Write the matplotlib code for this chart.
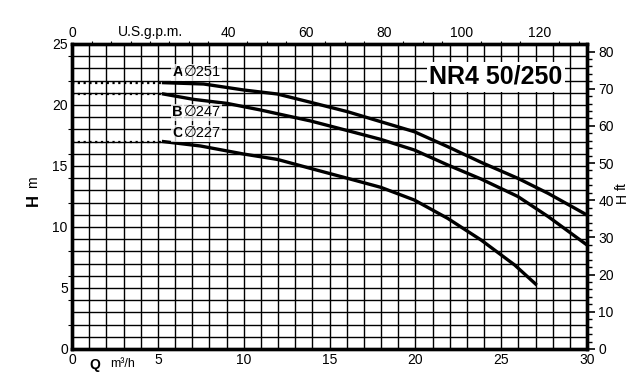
import matplotlib.pyplot as plt
import numpy as np

plt.rcParams['font.family'] = ['Liberation Sans', 'DejaVu Sans']

# curve data, Q in m3/h, H in m
q_a = [5.33, 7.67, 10.0, 11.96, 13.9, 16.05, 17.99, 19.94, 21.89, 23.83, 25.97, 27.73, 30.0]
h_a = [21.83, 21.72, 21.23, 20.9, 20.22, 19.45, 18.63, 17.81, 16.58, 15.3, 13.99, 12.76, 10.98]
q_b = [5.33, 7.09, 9.04, 10.98, 13.9, 16.05, 17.99, 19.94, 21.89, 23.83, 25.97, 27.73, 30.0]
h_b = [20.9, 20.46, 20.13, 19.59, 18.69, 17.9, 17.18, 16.31, 15.08, 13.93, 12.5, 10.86, 8.52]
q_c = [5.33, 7.48, 10.0, 11.96, 13.9, 16.05, 17.99, 19.94, 21.89, 23.83, 25.78, 27.0]
h_c = [17.0, 16.64, 15.98, 15.54, 14.8, 13.99, 13.25, 12.21, 10.7, 8.93, 6.89, 5.33]
labels = ['A', 'B', 'C']
diam = ['251', '247', '227']
label_h = [22.7, 19.4, 17.7]

fig = plt.figure(figsize=(6.39, 3.77), dpi=100)
ax = fig.add_axes([0.1127, 0.0743, 0.806, 0.809])
ax.set_xlim(0, 30)
ax.set_ylim(0, 25)

# griglia
ax.vlines(np.arange(1, 30), 0, 25, color='black', lw=1.0, zorder=1)
ax.hlines(np.arange(1, 25), 0, 30, color='black', lw=1.0, zorder=1)

for q, h in [(q_a, h_a), (q_b, h_b), (q_c, h_c)]:
    ax.plot(q, h, color='black', lw=2.4, solid_joinstyle='round', zorder=3)
    ax.plot([0, q[0]], [h[0], h[0]], color='black', lw=1.6,
            linestyle=(0, (1, 1.6)), zorder=3)

for lab, d, y in zip(labels, diam, label_h):
    ax.text(5.85, y, lab, fontsize=10.5, fontweight='bold', va='center',
            ha='left', zorder=4,
            bbox=dict(facecolor='white', edgecolor='none', pad=1, alpha=0.75))
    ax.text(6.5, y, '\u2205' + d, fontsize=10.5, va='center', ha='left',
            zorder=4,
            bbox=dict(facecolor='white', edgecolor='none', pad=1, alpha=0.75))

ax.text(24.7, 22.3, 'NR4 50/250', fontsize=18, fontweight='bold',
        ha='center', va='center', zorder=4,
        bbox=dict(facecolor='white', edgecolor='none', pad=2))

for s in ax.spines.values():
    s.set_linewidth(2.4)

ax.set_xticks(range(0, 31, 5))
ax.set_yticks(range(0, 26, 5))
ax.set_yticks(range(0, 26, 2), minor=True)
ax.tick_params(axis='both', which='major', length=0, labelsize=10, pad=3)
ax.tick_params(axis='y', which='minor', length=3, width=0.8, direction='out')
ax.tick_params(axis='x', which='minor', length=0)
ax.text(1.0, -1.3, 'Q', fontsize=10, fontweight='bold', ha='left', va='center')
ax.text(2.2, -1.2, 'm\u00b3/h', fontsize=9, ha='left', va='center')

fig.text(0.052, 0.47, 'H', fontsize=12, fontweight='bold', rotation=90,
         ha='center', va='center')
fig.text(0.052, 0.50, 'm', fontsize=10, rotation=90, ha='center', va='bottom')

# asse piedi
ax2 = ax.twinx()
ax2.set_ylim(0, 25 * 3.2808)
ax2.set_yticks(range(0, 81, 10))
ax2.set_yticks(range(0, 82, 2), minor=True)
ax2.tick_params(axis='y', which='major', length=6, width=1.2, labelsize=10, pad=2)
ax2.tick_params(axis='y', which='minor', length=3.5, width=1.0)
for s in ax2.spines.values():
    s.set_linewidth(2.4)
fig.text(0.973, 0.475, 'H', fontsize=10, rotation=90, ha='center', va='center')
fig.text(0.973, 0.497, 'ft', fontsize=10, rotation=90, ha='center', va='bottom')

# asse gpm
ax3 = ax.twiny()
ax3.set_xlim(0, 30 * 4.4029)
ax3.set_xticks([0, 40, 60, 80, 100, 120])
ax3.set_xticks(range(0, 133, 5), minor=True)
ax3.tick_params(axis='x', which='major', length=0, labelsize=10, pad=3)
ax3.tick_params(axis='x', which='minor', length=2.5, width=0.8)
ax3.text(20, 1.015, 'U.S.g.p.m.', transform=ax3.get_xaxis_transform(),
         fontsize=10, ha='center', va='bottom')

fig.savefig('out.png', dpi=100)
